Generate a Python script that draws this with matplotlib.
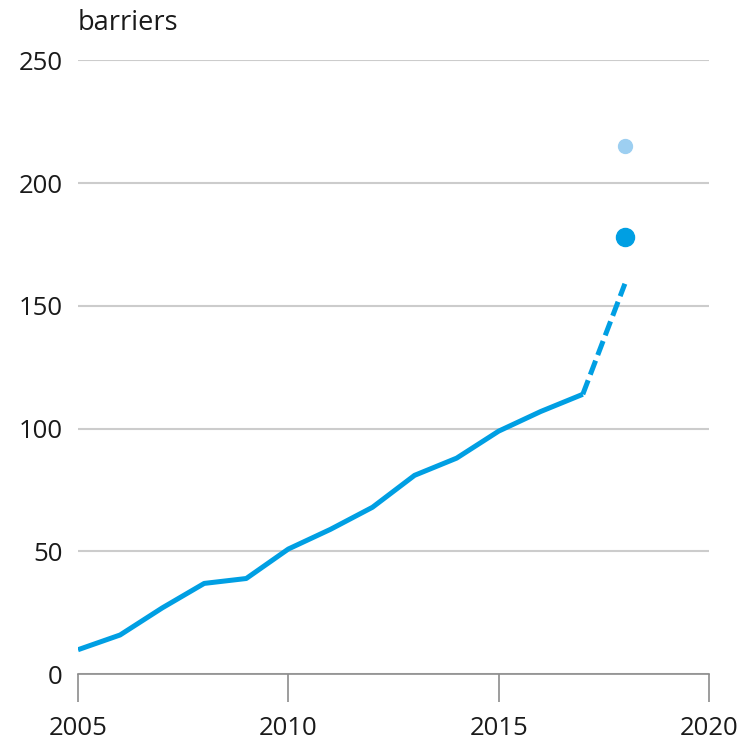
import matplotlib.pyplot as plt

years = [2005, 2006, 2007, 2008, 2009, 2010, 2011, 2012, 2013, 2014, 2015, 2016, 2017]
barriers = [10, 16, 27, 37, 39, 51, 59, 68, 81, 88, 99, 107, 114]
dash_years = [2017, 2018]
dash_vals = [114, 159]
dot_year = 2018
dot_val = 178
light_val = 215

blue = "#009fe3"
light_blue = "#9dcff1"

plt.rcParams['font.family'] = ['Open Sans', 'DejaVu Sans']

fig = plt.figure(figsize=(7.45, 7.44), dpi=100)
ax = fig.add_axes([0.1047, 0.0937, 0.847, 0.8253])

ax.plot(years, barriers, color=blue, lw=3.6, solid_capstyle='butt', zorder=3)
ax.plot(dash_years, dash_vals, color=blue, lw=3.6, dashes=(3, 1.2), zorder=3)
ax.plot([dot_year], [dot_val], 'o', color=blue, ms=13, zorder=4)
ax.plot([dot_year], [light_val], 'o', color=light_blue, ms=10, zorder=4)

ax.set_xlim(2005, 2020)
ax.set_ylim(0, 250)
ax.set_yticks([0, 50, 100, 150, 200, 250])
ax.set_xticks([2005, 2010, 2015, 2020])
ax.grid(axis='y', color='#cccccc', lw=1.5)
ax.set_axisbelow(True)

for s in ['top', 'right', 'left']:
    ax.spines[s].set_visible(False)
ax.spines['bottom'].set_color('#8c8c8c')
ax.spines['bottom'].set_linewidth(1.2)

ax.tick_params(axis='y', length=0, pad=11, labelsize=18.5, labelcolor='#1a1a1a')
ax.tick_params(axis='x', length=20, width=1.2, color='#8c8c8c', pad=10, labelsize=18.5, labelcolor='#1a1a1a')

ax.text(0, 1.0, "barriers", transform=ax.transAxes, fontsize=19.5, color='#1a1a1a',
        ha='left', va='baseline')
ax.texts[-1].set_y(1 + 30 / (0.8253 * 744))

fig.savefig("out.png", dpi=100)
